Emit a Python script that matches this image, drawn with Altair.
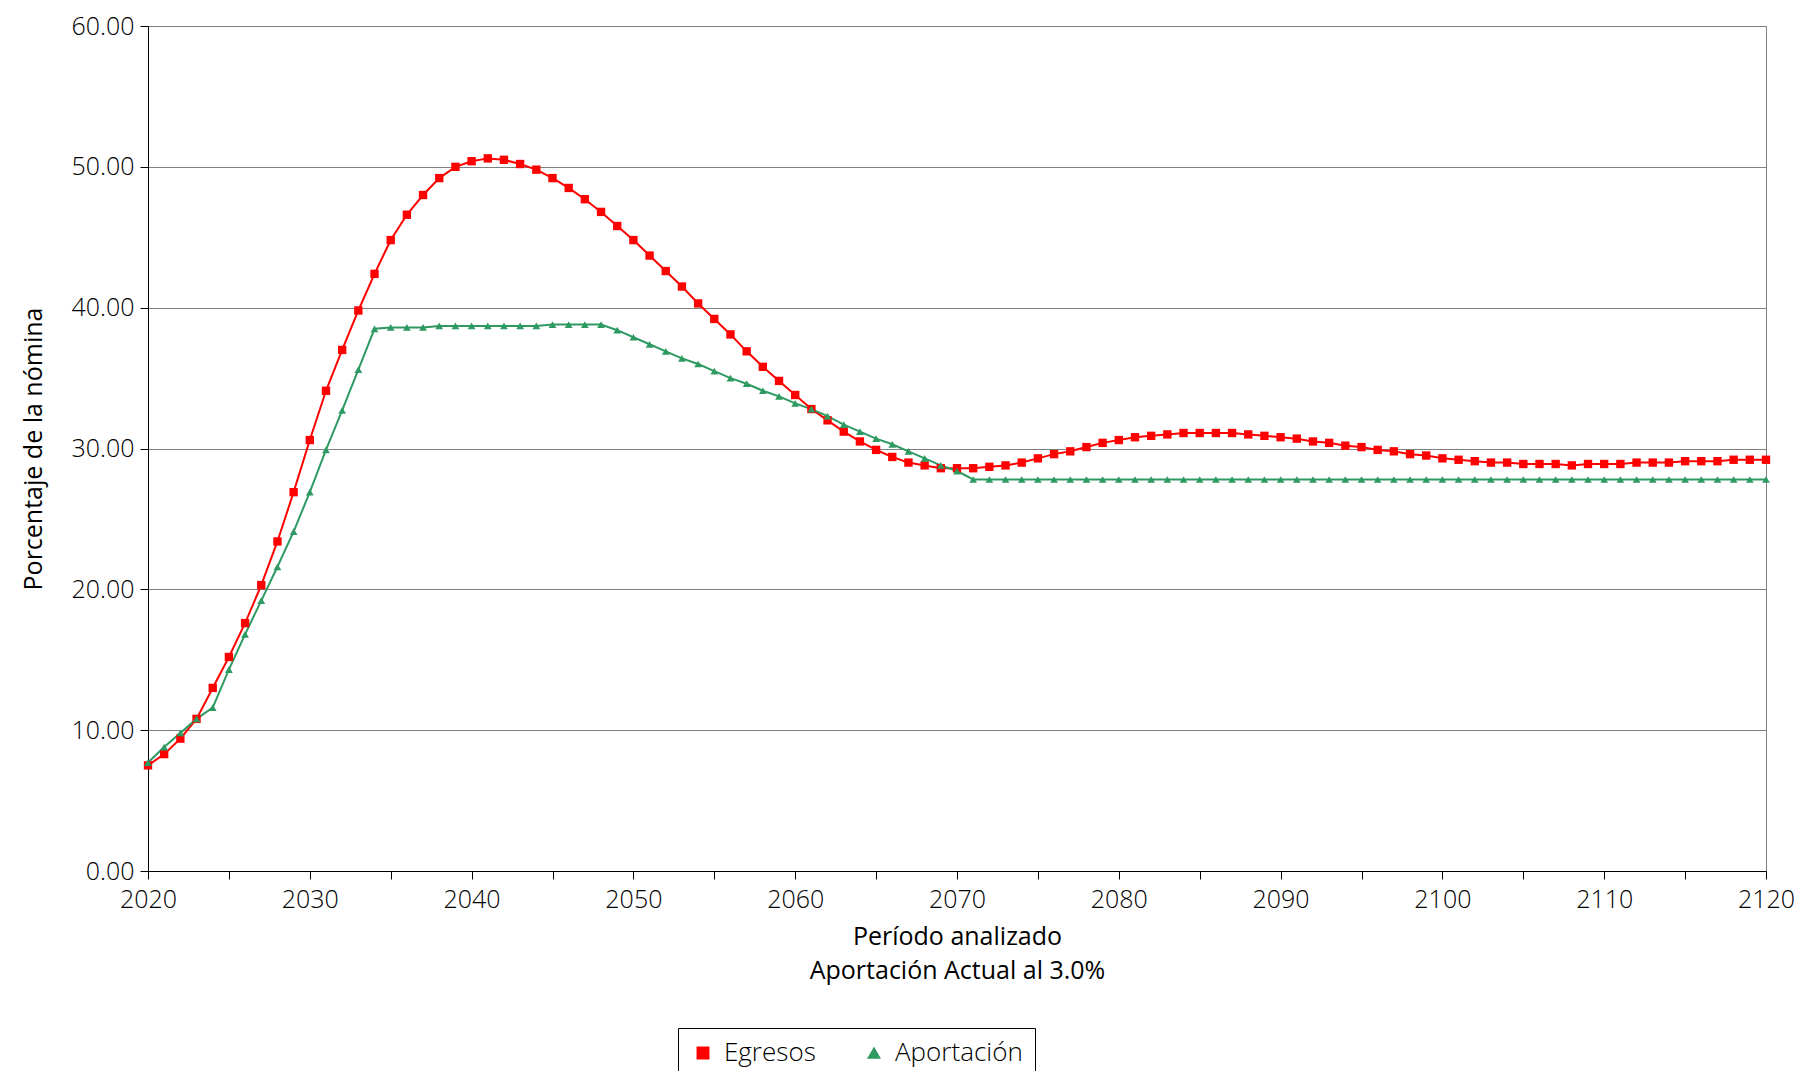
import altair as alt
import pandas as pd

years = list(range(2020, 2121))

egresos = [7.5, 8.3, 9.4, 10.8, 13.0, 15.2, 17.6, 20.3, 23.4, 26.9,
           30.6, 34.1, 37.0, 39.8, 42.4, 44.8, 46.6, 48.0, 49.2, 50.0,
           50.4, 50.6, 50.5, 50.2, 49.8, 49.2, 48.5, 47.7, 46.8, 45.8,
           44.8, 43.7, 42.6, 41.5, 40.3, 39.2, 38.1, 36.9, 35.8, 34.8,
           33.8, 32.8, 32.0, 31.2, 30.5, 29.9, 29.4, 29.0, 28.8, 28.6,
           28.6, 28.6, 28.7, 28.8, 29.0, 29.3, 29.6, 29.8, 30.1, 30.4,
           30.6, 30.8, 30.9, 31.0, 31.1, 31.1, 31.1, 31.1, 31.0, 30.9,
           30.8, 30.7, 30.5, 30.4, 30.2, 30.1, 29.9, 29.8, 29.6, 29.5,
           29.3, 29.2, 29.1, 29.0, 29.0, 28.9, 28.9, 28.9, 28.8, 28.9,
           28.9, 28.9, 29.0, 29.0, 29.0, 29.1, 29.1, 29.1, 29.2, 29.2,
           29.2]

aportacion = [7.7, 8.8, 9.8, 10.8, 11.6, 14.3, 16.8, 19.2, 21.6, 24.1,
              26.9, 29.9, 32.7, 35.6, 38.5, 38.6, 38.6, 38.6, 38.7, 38.7,
              38.7, 38.7, 38.7, 38.7, 38.7, 38.8, 38.8, 38.8, 38.8, 38.4,
              37.9, 37.4, 36.9, 36.4, 36.0, 35.5, 35.0, 34.6, 34.1, 33.7,
              33.2, 32.8, 32.3, 31.7, 31.2, 30.7, 30.3, 29.8, 29.3, 28.8,
              28.4] + [27.8] * 50

series = ['Egresos', 'Aportación']
colors = ['#ff0000', '#2e9a62']
shapes = ['square', 'triangle-up']

df = pd.concat([
    pd.DataFrame({'year': years, 'value': egresos, 'serie': 'Egresos'}),
    pd.DataFrame({'year': years, 'value': aportacion, 'serie': 'Aportación'}),
])

font = 'Open Sans'

x = alt.X('year:Q', scale=alt.Scale(domain=[2020, 2120], nice=False),
          axis=alt.Axis(title=['Período analizado', 'Aportación Actual al 3.0%'],
                        values=list(range(2020, 2121, 5)),
                        labelExpr="datum.value % 10 == 0 ? datum.value : ''",
                        labelFlush=False, labelPadding=8,
                        grid=False, tickSize=8, titlePadding=12,
                        titleFontWeight='normal', titleLineHeight=34))
y = alt.Y('value:Q', scale=alt.Scale(domain=[0, 60], nice=False),
          axis=alt.Axis(title='Porcentaje de la nómina', format='.2f',
                        values=list(range(0, 61, 10)), tickSize=8,
                        labelFlush=False, labelPadding=6,
                        gridColor='#808080', titlePadding=24,
                        titleFontWeight='normal'))
color = alt.Color('serie:N', scale=alt.Scale(domain=series, range=colors),
                  legend=alt.Legend(title=None, orient='none', direction='horizontal',
                                    legendX=530, legendY=1002, strokeColor='black',
                                    padding=12, symbolSize=130, columnPadding=45,
                                    labelFontSize=26, labelFont=font,
                                    labelFontWeight=300, labelOffset=8))
shape = alt.Shape('serie:N', scale=alt.Scale(domain=series, range=shapes), legend=None)

lines = alt.Chart(df).mark_line(strokeWidth=2).encode(x=x, y=y, color=color)
points = alt.Chart(df).mark_point(filled=True, opacity=1).encode(
    x=x, y=y, color=color, shape=shape,
    size=alt.condition(alt.datum.serie == 'Egresos', alt.value(70), alt.value(60)))

chart = (lines + points).properties(
    width=1618, height=845,
    autosize=alt.AutoSizeParams(type='none'),
    padding={'left': 140, 'top': 18, 'right': 30, 'bottom': 200},
).configure_view(stroke='#808080').configure_axis(
    labelFont=font, titleFont=font, labelFontSize=25, titleFontSize=25,
    labelFontWeight=300, titleFontWeight=300,
    labelColor='black', titleColor='black', domainColor='black', tickColor='black'
)

chart.save("out.html", embed_options={"renderer": "svg", "actions": False})
